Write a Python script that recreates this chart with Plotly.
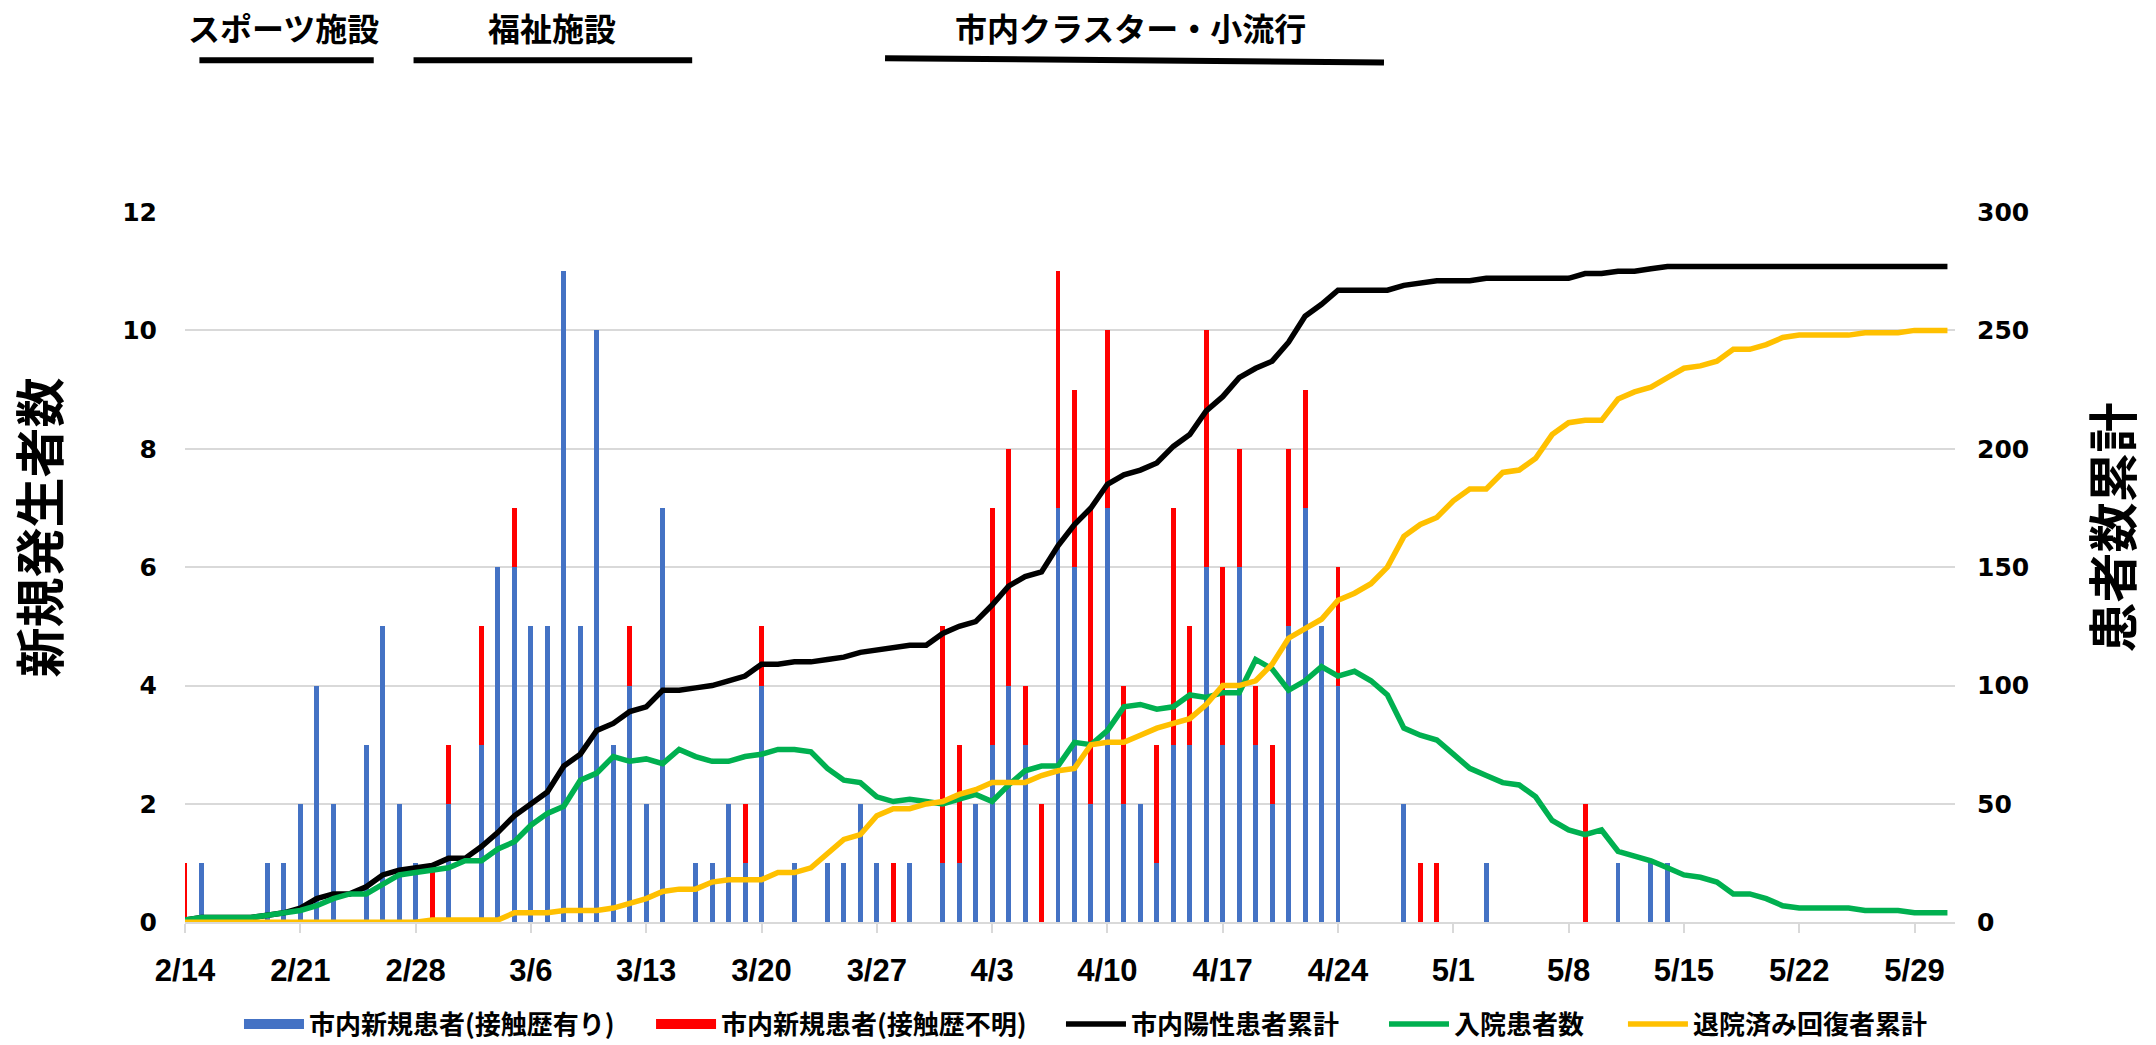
import pandas as pd
import plotly.graph_objects as go

# ---------------- data ----------------
dates = pd.date_range("2020-02-14", "2020-05-31", freq="D")

# 市内新規患者(接触歴有り)
contact_known = [
    0, 1, 0, 0, 0, 1, 1, 2, 4, 2, 0, 3, 5, 2, 1, 0,          # 2/14-2/29
    2, 0, 3, 6, 6, 5, 5, 11, 5, 10, 3, 4, 2, 7, 0, 1,        # 3/1-3/16
    1, 2, 1, 4, 0, 1, 0, 1, 1, 2, 1, 0, 1, 0, 1,             # 3/17-3/31
    1, 2, 3, 4, 3, 0, 7, 6, 2, 7, 2, 2, 1, 3, 3,             # 4/1-4/15
    6, 3, 6, 3, 2, 5, 7, 5, 4, 0, 0, 0, 2, 0, 0,             # 4/16-4/30
    0, 0, 1, 0, 0, 0, 0, 0, 0, 0, 1, 0, 1, 1, 0, 0,          # 5/1-5/16
    0, 0, 0, 0, 0, 0, 0, 0, 0, 0, 0, 0, 0, 0, 0,             # 5/17-5/31
]
# 市内新規患者(接触歴不明)
contact_unknown = [
    1, 0, 0, 0, 0, 0, 0, 0, 0, 0, 0, 0, 0, 0, 0, 1,
    1, 0, 2, 0, 1, 0, 0, 0, 0, 0, 0, 1, 0, 0, 0, 0,
    0, 0, 1, 1, 0, 0, 0, 0, 0, 0, 0, 1, 0, 0, 4,
    2, 0, 4, 4, 1, 2, 4, 3, 5, 3, 2, 0, 2, 4, 2,
    4, 3, 2, 1, 1, 3, 2, 0, 2, 0, 0, 0, 0, 1, 1,
    0, 0, 0, 0, 0, 0, 0, 0, 2, 0, 0, 0, 0, 0, 0, 0,
    0, 0, 0, 0, 0, 0, 0, 0, 0, 0, 0, 0, 0, 0, 0,
]
# 市内陽性患者累計
cumulative_positive = [
    1, 2, 2, 2, 2, 3, 4, 6, 10, 12, 12, 15, 20, 22, 23, 24,
    27, 27, 32, 38, 45, 50, 55, 66, 71, 81, 84, 89, 91, 98, 98, 99,
    100, 102, 104, 109, 109, 110, 110, 111, 112, 114, 115, 116, 117, 117, 122,
    125, 127, 134, 142, 146, 148, 159, 168, 175, 185, 189, 191, 194, 201, 206,
    216, 222, 230, 234, 237, 245, 256, 261, 267, 267, 267, 267, 269, 270, 271,
    271, 271, 272, 272, 272, 272, 272, 272, 274, 274, 275, 275, 276, 277, 277, 277,
    277, 277, 277, 277, 277, 277, 277, 277, 277, 277, 277, 277, 277, 277, 277,
]
# 入院患者数
hospitalized = [
    1, 2, 2, 2, 2, 3, 4, 5, 7, 10, 12, 12, 16, 20, 21, 22,
    23, 26, 26, 31, 34, 41, 46, 49, 60, 63, 70, 68, 69, 67, 73, 70,
    68, 68, 70, 71, 73, 73, 72, 65, 60, 59, 53, 51, 52, 51, 50,
    52, 54, 51, 58, 64, 66, 66, 76, 75, 81, 91, 92, 90, 91, 96,
    95, 97, 97, 111, 107, 98, 102, 108, 104, 106, 102, 96, 82, 79, 77,
    71, 65, 62, 59, 58, 53, 43, 39, 37, 39, 30, 28, 26, 23, 20, 19,
    17, 12, 12, 10, 7, 6, 6, 6, 6, 5, 5, 5, 4, 4, 4,
]
# 退院済み回復者累計
recovered = [
    0, 0, 0, 0, 0, 0, 0, 0, 0, 0, 0, 0, 0, 0, 0, 1,
    1, 1, 1, 1, 4, 4, 4, 5, 5, 5, 6, 8, 10, 13, 14, 14,
    17, 18, 18, 18, 21, 21, 23, 29, 35, 37, 45, 48, 48, 50, 51,
    54, 56, 59, 59, 59, 62, 64, 65, 75, 76, 76, 79, 82, 84, 86,
    92, 100, 100, 102, 109, 120, 124, 128, 136, 139, 143, 150, 163, 168, 171,
    178, 183, 183, 190, 191, 196, 206, 211, 212, 212, 221, 224, 226, 230, 234, 235,
    237, 242, 242, 244, 247, 248, 248, 248, 248, 249, 249, 249, 250, 250, 250,
]

left_ticks = [0, 2, 4, 6, 8, 10, 12]
right_ticks = [0, 50, 100, 150, 200, 250, 300]

period_labels = ["スポーツ施設", "福祉施設", "市内クラスター・小流行"]
period_label_at = ["2020-02-20 00:00", "2020-03-07 07:00", "2020-04-11 10:00"]
period_start = ["2020-02-14 21:00", "2020-02-27 21:00", "2020-03-27 12:00"]
period_end = ["2020-02-25 11:00", "2020-03-15 19:00", "2020-04-26 19:00"]

# ---------------- style ----------------
BLUE, RED, BLACK, GREEN, YELLOW = "#4472C4", "#FF0000", "#000000", "#00B050", "#FFC000"
JP = "Noto Sans CJK JP"
GRID = "#D9D9D9"
DAY_MS = 86400000

fig = go.Figure()

fig.add_trace(go.Bar(x=dates, y=contact_known, name="市内新規患者(接触歴有り)",
                     marker=dict(color=BLUE, line=dict(width=0)), width=0.3 * DAY_MS,
                     legendgroup="known", showlegend=False, yaxis="y"))
fig.add_trace(go.Bar(x=dates, y=contact_unknown, name="市内新規患者(接触歴不明)",
                     marker=dict(color=RED, line=dict(width=0)), width=0.3 * DAY_MS,
                     legendgroup="unknown", showlegend=False, yaxis="y"))

# legend swatches for the bars (wide rectangles like the original)
fig.add_trace(go.Scatter(x=[None], y=[None], mode="lines", name="市内新規患者(接触歴有り)",
                         line=dict(color=BLUE, width=17), legendgroup="known",
                         showlegend=True, legend="legend"))
fig.add_trace(go.Scatter(x=[None], y=[None], mode="lines", name="市内新規患者(接触歴不明)",
                         line=dict(color=RED, width=17), legendgroup="unknown",
                         showlegend=True, legend="legend2"))

line_series = [("市内陽性患者累計", cumulative_positive, BLACK, "legend3"),
               ("入院患者数", hospitalized, GREEN, "legend4"),
               ("退院済み回復者累計", recovered, YELLOW, "legend5")]
for name, vals, col, leg in line_series:
    fig.add_trace(go.Scatter(x=dates, y=vals, name=name, mode="lines",
                             line=dict(color=col, width=5.5), yaxis="y2", legend=leg))

shapes = []
annotations = []
for i, lab in enumerate(period_labels):
    y0, y1 = (1.2165, 1.2105) if i == 2 else (1.2135, 1.2135)
    shapes.append(dict(type="line", xref="x", yref="paper", x0=period_start[i], x1=period_end[i],
                       y0=y0, y1=y1, line=dict(color="black", width=6)))
    annotations.append(dict(text=lab, xref="x", yref="paper", x=period_label_at[i], y=1.261,
                            showarrow=False, xanchor="center", yanchor="middle",
                            font=dict(family=JP, size=32, color="black", weight=700)))

annotations.append(dict(text="新規発生者数", xref="paper", yref="paper", x=-0.0835, y=0.556,
                        textangle=-90, showarrow=False, xanchor="center", yanchor="middle",
                        font=dict(family=JP, size=50, color="black", weight=700)))
annotations.append(dict(text="患者数累計", xref="paper", yref="paper", x=1.0876, y=0.556,
                        textangle=-90, showarrow=False, xanchor="center", yanchor="middle",
                        font=dict(family=JP, size=50, color="black", weight=700)))

num_font = dict(family="DejaVu Sans", size=25, color="black", weight=700)
legend_font = dict(family=JP, size=26, color="black", weight=700)
legend_x = [0.0305, 0.2633, 0.4949, 0.6774, 0.8124]


def leg(x):
    return dict(orientation="h", x=x, xanchor="left", yref="container", y=0.0201,
                yanchor="middle", font=legend_font, itemwidth=60,
                bgcolor="rgba(0,0,0,0)", borderwidth=0)


fig.update_layout(
    width=2156, height=1045,
    margin=dict(l=185, r=201, t=212, b=121),
    paper_bgcolor="white", plot_bgcolor="white",
    barmode="stack", bargap=0,
    showlegend=True,
    legend=leg(legend_x[0]), legend2=leg(legend_x[1]), legend3=leg(legend_x[2]),
    legend4=leg(legend_x[3]), legend5=leg(legend_x[4]),
    xaxis=dict(type="date", range=["2020-02-14", "2020-05-31 11:00"],
               tick0="2020-02-14", dtick=7 * DAY_MS, tickformat="%-m/%-d",
               ticks="outside", ticklen=9, tickwidth=2, tickcolor=GRID,
               showline=True, linecolor=GRID, linewidth=2,
               showgrid=False, zeroline=False,
               tickfont=dict(family="Liberation Sans Narrow, Liberation Sans", size=31,
                             color="black", weight=700),
               ticklabelstandoff=11),
    yaxis=dict(range=[0, 12], tickvals=left_ticks, showgrid=True, gridcolor=GRID, gridwidth=1.5,
               zeroline=False, showline=False, ticks="", tickfont=num_font, ticklabelstandoff=27),
    yaxis2=dict(range=[0, 300], tickvals=right_ticks, overlaying="y", side="right",
                showgrid=False, zeroline=False, showline=False, ticks="",
                tickfont=num_font, ticklabelstandoff=21),
    shapes=shapes,
    annotations=annotations,
)

# remove the default 8px page margin so the figure sits at the window's corner
fig.write_html("out.html", config={"displayModeBar": False},
               post_script="document.body.style.margin='0px';")
